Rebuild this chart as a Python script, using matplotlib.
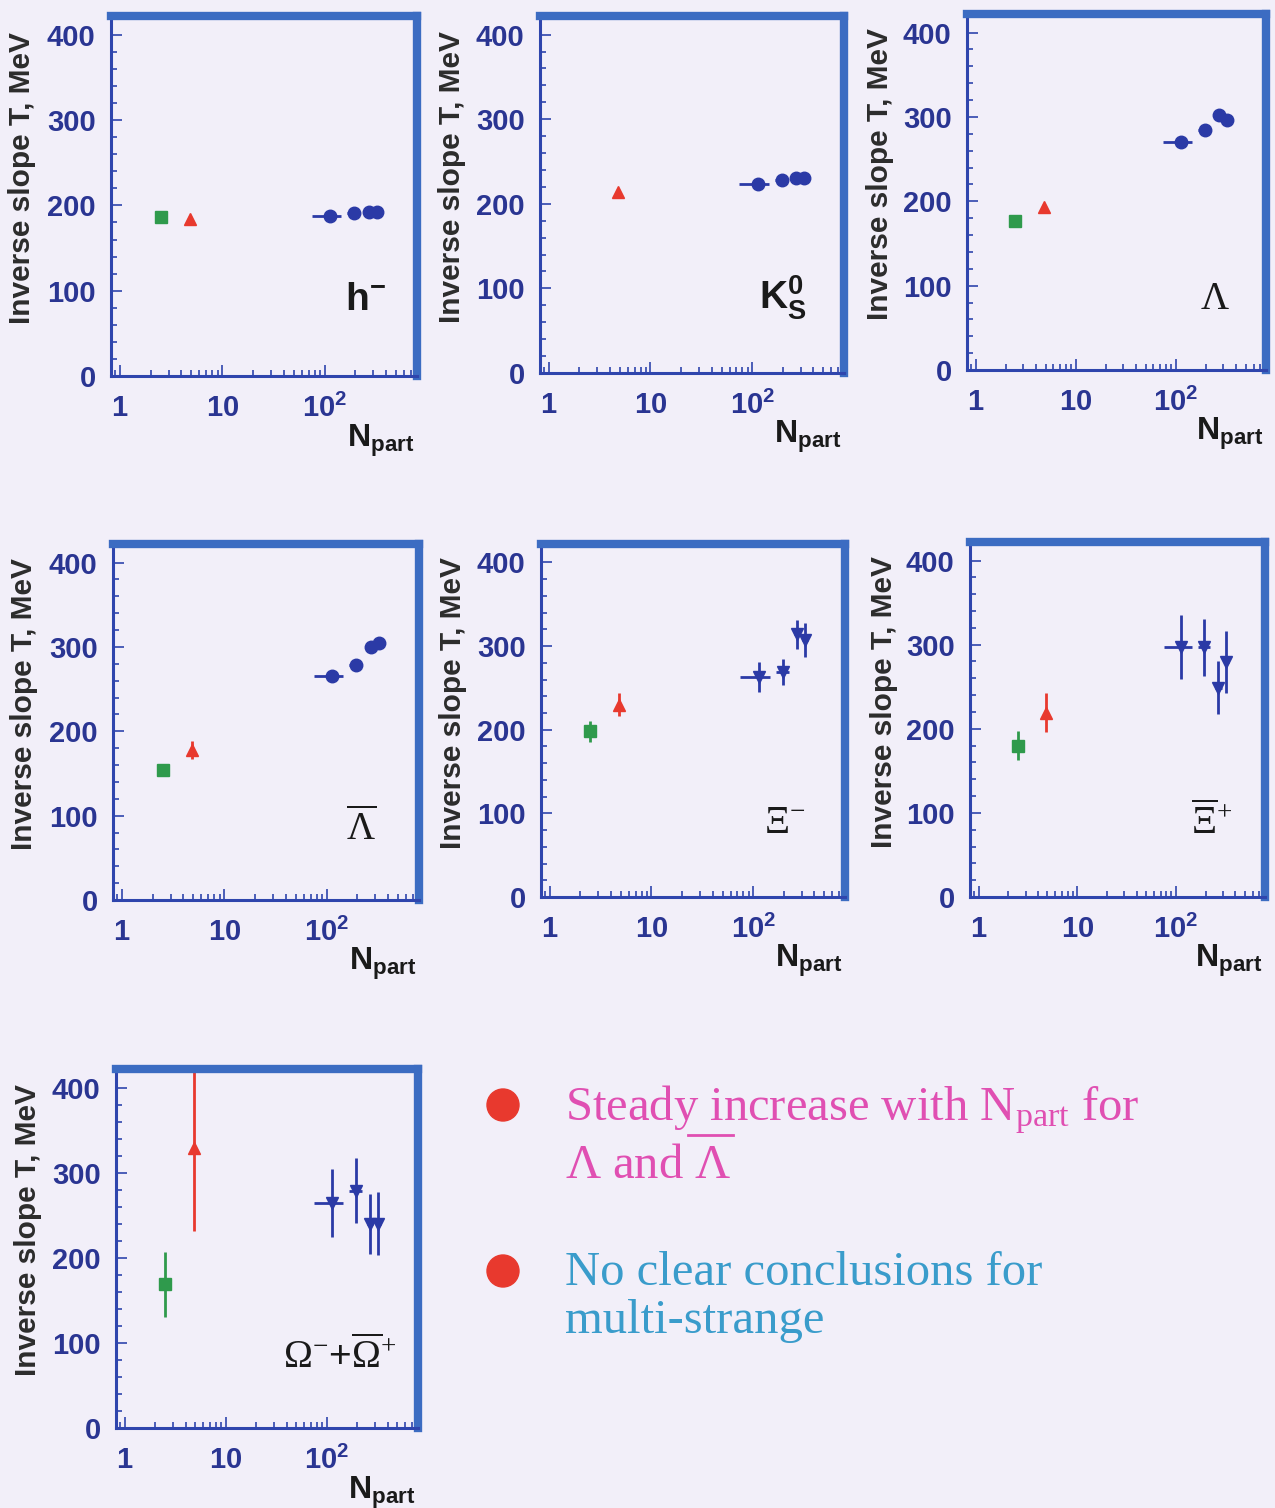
import numpy as np
import matplotlib
matplotlib.use("Agg")
import matplotlib.pyplot as plt
from matplotlib.ticker import FixedLocator, MultipleLocator, LogLocator, NullFormatter, FixedFormatter
from matplotlib.patches import Ellipse
from matplotlib.lines import Line2D

plt.rcParams['font.family'] = ['Liberation Sans', 'DejaVu Sans']
plt.rcParams['mathtext.fontset'] = 'custom'
plt.rcParams['mathtext.rm'] = 'Liberation Serif'
plt.rcParams['mathtext.it'] = 'Liberation Serif:italic'
plt.rcParams['mathtext.bf'] = 'Liberation Sans:bold'
plt.rcParams['mathtext.sf'] = 'Liberation Sans'

# N_part de cada sistema (pp, pBe, PbPb en 4 clases de centralidad)
npart_pp = 2.5
npart_pbe = 4.8
npart_pbpb = [113, 195, 270, 325]
npart_pbpb_xlo = [38, 28, 20, 20]
npart_pbpb_xhi = [32, 28, 20, 20]

# etiquetas de cada panel
labels = [r'$\mathbf{h^{-}}$', r'$\mathbf{K^{0}_{S}}$', r'$\Lambda$', r'$\overline{\Lambda}$',
          r'$\Xi^{-}$', r'$\overline{\Xi}^{+}$', r'$\Omega^{-}$+$\overline{\Omega}^{+}$']

# pendiente inversa T (MeV) para p-p (verde) y p-Be (rojo)
T_pp = [186, np.nan, 177, 154, 198, 180, 169]
T_pp_err = [3, 0, 3, 3, 13, 17, 38]
T_pbe = [184, 214, 193, 178, 230, 219, 329]
T_pbe_err = [3, 3, 4, 11, 14, 23, 97]

# Pb-Pb (azul)
T_h = [187, 191, 192, 192]
T_k0 = [223, 228, 230, 230]
T_lam = [270, 284, 302, 296]
T_alam = [266, 279, 300, 305]
T_xi = [263, 269, 314, 307]
T_axi = [297, 297, 249, 279]
T_om = [264, 279, 240, 240]
T_pbpb = [T_h, T_k0, T_lam, T_alam, T_xi, T_axi, T_om]
T_pbpb_err = [[3, 3, 3, 3], [3, 3, 3, 3], [5, 5, 5, 5], [5, 5, 5, 5],
              [18, 16, 17, 20], [38, 34, 31, 37], [40, 38, 35, 37]]
pbpb_marker = ['o', 'o', 'o', 'o', 'v', 'v', 'v']

xticks = [1, 10, 100]
xticklabels = [r'$\mathbf{1}$', r'$\mathbf{10}$', r'$\mathbf{10^{2}}$']

W, H = 1275, 1508
bg = '#f2eff9'
fig = plt.figure(figsize=(W / 100, H / 100), dpi=100)
fig.patch.set_facecolor(bg)

# posiciones de los paneles en pixeles (izq, arriba, der, abajo)
boxes = [(111, 16, 417, 376), (540, 16, 844, 373), (967, 14, 1266, 370),
         (113, 544, 419, 900), (541, 544, 845, 897), (970, 542, 1265, 897),
         (116, 1069, 418, 1428)]
label_pos = [(0.83, 0.21), (0.80, 0.21), (0.83, 0.20), (0.81, 0.20),
             (0.80, 0.21), (0.82, 0.21), (0.74, 0.20)]

green, red, blue = '#2f9a4c', '#e8392e', '#2b3aa6'
frame = '#3c6cc2'
axcol = '#2f45ad'

for i, (l, t, r, b) in enumerate(boxes):
    ax = fig.add_axes([l / W, 1 - b / H, (r - l) / W, (b - t) / H])
    ax.set_facecolor(bg)
    ax.set_xscale('log')
    ax.set_xlim(0.82, 800)
    ax.set_ylim(0, 422)

    if not np.isnan(T_pp[i]):
        ax.errorbar([npart_pp], [T_pp[i]], yerr=[T_pp_err[i]], fmt='s', color=green,
                    ms=9, elinewidth=2, capsize=0)
    ax.errorbar([npart_pbe], [T_pbe[i]], yerr=[T_pbe_err[i]], fmt='^', color=red,
                ms=9, elinewidth=2, capsize=0)
    ax.errorbar(npart_pbpb, T_pbpb[i], yerr=T_pbpb_err[i],
                xerr=[npart_pbpb_xlo, npart_pbpb_xhi], fmt=pbpb_marker[i], color=blue,
                ms=9, elinewidth=2, capsize=0)

    for s in ['top', 'right']:
        ax.spines[s].set_color(frame)
        ax.spines[s].set_linewidth(6)
    for s in ['left', 'bottom']:
        ax.spines[s].set_color(axcol)
        ax.spines[s].set_linewidth(2.2)

    ax.yaxis.set_major_locator(MultipleLocator(100))
    ax.yaxis.set_minor_locator(MultipleLocator(20))
    ax.xaxis.set_major_locator(FixedLocator(xticks))
    ax.xaxis.set_major_formatter(FixedFormatter(xticklabels))
    ax.xaxis.set_minor_locator(LogLocator(base=10, subs=np.arange(2, 10)))
    ax.xaxis.set_minor_formatter(NullFormatter())
    ax.tick_params(which='both', direction='in', color=axcol, width=1.2)
    ax.tick_params(which='major', length=8)
    ax.tick_params(which='minor', length=4)
    ax.tick_params(axis='y', pad=11, labelsize=21, labelcolor='#2a3592')
    ax.tick_params(axis='x', pad=13, labelsize=21, labelcolor='#2a3592')
    for lab in ax.get_yticklabels():
        lab.set_fontweight('bold')

    ax.text(-0.29, 0.55, 'Inverse slope T, MeV', rotation=90, transform=ax.transAxes,
            ha='center', va='center', fontsize=21.5, fontweight='bold', color='#2c2c2c')
    ax.text(0.99, -0.18, r'$\mathbf{N_{part}}$', transform=ax.transAxes,
            ha='right', va='center', fontsize=23, color='#1a1a1a')
    ax.text(label_pos[i][0], label_pos[i][1], labels[i], transform=ax.transAxes,
            ha='center', va='center', fontsize=28, color='#1a1a1a')

# texto de conclusiones
pink, teal = '#e04fb2', '#3a9ccb'
fs = 35
fig.text(565 / W, 1 - 1120 / H, r'Steady increase with N$_{\rm part}$ for',
         fontsize=fs, color=pink, family='Liberation Serif', va='baseline')
fig.text(565 / W, 1 - 1178 / H, r'$\Lambda$ and $\Lambda$',
         fontsize=fs, color=pink, family='Liberation Serif', va='baseline')
fig.add_artist(Line2D([688 / W, 733 / W], [1 - 1135 / H, 1 - 1135 / H],
                      transform=fig.transFigure, color=pink, lw=2))
fig.text(565 / W, 1 - 1285 / H, 'No clear conclusions for',
         fontsize=fs, color=teal, family='Liberation Serif', va='baseline')
fig.text(565 / W, 1 - 1333 / H, 'multi-strange',
         fontsize=fs, color=teal, family='Liberation Serif', va='baseline')
for yb in [1105, 1271]:
    fig.add_artist(Ellipse((503 / W, 1 - yb / H), 32 / W, 32 / H,
                           transform=fig.transFigure, color=red))

fig.savefig('out.png', dpi=100, facecolor=bg)
